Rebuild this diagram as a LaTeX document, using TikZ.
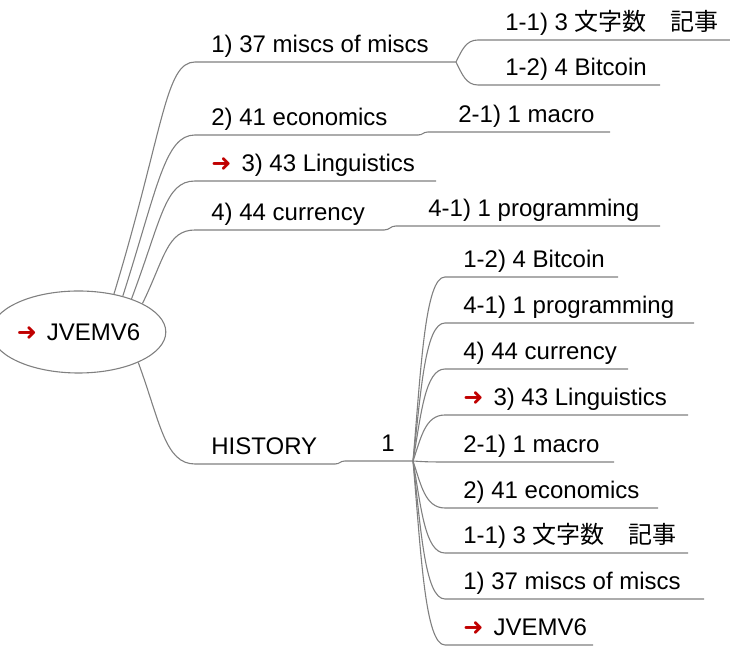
\documentclass[tikz,border=0pt]{standalone}
\usepackage{fontspec}
\setmainfont{Liberation Sans}
\newfontfamily\cjk{Noto Sans CJK JP}
\newfontfamily\symfont{DejaVu Sans}
\usetikzlibrary{shapes.geometric}
\definecolor{edgegray}{HTML}{808080}
\definecolor{iconred}{HTML}{C00000}
\newcommand{\redarrow}{{\symfont\fontsize{12}{12}\selectfont\textcolor{iconred}{➜}}}

\begin{document}
\begin{tikzpicture}[
    x=0.5pt, y=-0.5pt,
    every node/.style={font=\fontsize{12}{14}\selectfont, inner sep=0pt},
    topic/.style={anchor=base west},
    edge/.style={draw=edgegray, line width=0.55pt},
    rootbox/.style={ellipse, draw=edgegray, line width=0.55pt, minimum width=78pt, minimum height=41pt}
  ]
    \useasboundingbox (0,0) rectangle (730,646);

    % root
    \node[rootbox] (root) at (78.5,332) {\redarrow\hspace{5pt}JVEMV6};

    % main branches
    \node[topic] (m1) at (211,53) {1) 37 miscs of miscs};
    \node[topic] (m2) at (211,126) {2) 41 economics};
    \node[topic] (m3) at (211,172) {\redarrow\hspace{5pt}3) 43 Linguistics};
    \node[topic] (m4) at (211,221) {4) 44 currency};
    \node[topic] (hist) at (211,455) {HISTORY};
    \coordinate (m1-l) at (195,62);   \coordinate (m1-r) at (456,62);
    \coordinate (m2-l) at (195,135);  \coordinate (m2-r) at (418,135);
    \coordinate (m3-l) at (195,181);  \coordinate (m3-r) at (436,181);
    \coordinate (m4-l) at (195,230);  \coordinate (m4-r) at (384,230);
    \coordinate (hist-l) at (195,464); \coordinate (hist-r) at (335,464);

    % children
    \node[topic] (c11) at (505,31) {1-1) 3 {\cjk 文字数　記事}};
    \node[topic] (c12) at (505,76) {1-2) 4 Bitcoin};
    \node[topic] (c21) at (458,123) {2-1) 1 macro};
    \node[topic] (c41) at (428,217) {4-1) 1 programming};
    \node[topic, anchor=base] (one) at (388,452) {1};
    \coordinate (c11-l) at (478,40);  \coordinate (c11-r) at (730,40);
    \coordinate (c12-l) at (478,85);  \coordinate (c12-r) at (660,85);
    \coordinate (c21-l) at (428,132); \coordinate (c21-r) at (610,132);
    \coordinate (c41-l) at (396,226); \coordinate (c41-r) at (660,226);
    \coordinate (one-l) at (345,461); \coordinate (one-r) at (413,461);

    % root edges
    \draw[edge] (root.47) .. controls +(50,-165) and +(-30,0) .. (m1-l) -- (m1-r);
    \draw[edge] (root.39) .. controls +(35,-110) and +(-30,0) .. (m2-l) -- (m2-r);
    \draw[edge] (root.32) .. controls +(30,-80) and +(-30,0) .. (m3-l) -- (m3-r);
    \draw[edge] (root.24) .. controls +(22,-45) and +(-28,0) .. (m4-l) -- (m4-r);
    \draw[edge] (root.-27) .. controls +(22,60) and +(-30,0) .. (hist-l) -- (hist-r);

    % child edges
    \draw[edge] (m1-r) .. controls +(6,-12) and +(-12,0) .. (c11-l) -- (c11-r);
    \draw[edge] (m1-r) .. controls +(6,12) and +(-12,0) .. (c12-l) -- (c12-r);
    \draw[edge] (m2-r) .. controls +(5,0) and +(-5,0) .. (c21-l) -- (c21-r);
    \draw[edge] (m4-r) .. controls +(6,0) and +(-6,0) .. (c41-l) -- (c41-r);
    \draw[edge] (hist-r) .. controls +(5,0) and +(-5,0) .. (one-l) -- (one-r);

    % history list
    \foreach \n/\y/\xr/\txt in {
        h1/277/618/{1-2) 4 Bitcoin},
        h2/323/694/{4-1) 1 programming},
        h3/369/628/{4) 44 currency},
        h4/415/688/{\redarrow\hspace{5pt}3) 43 Linguistics},
        h5/462/614/{2-1) 1 macro},
        h6/508/658/{2) 41 economics},
        h7/553/688/{1-1) 3 {\cjk 文字数　記事}},
        h8/599/704/{1) 37 miscs of miscs},
        h9/645/593/{\redarrow\hspace{5pt}JVEMV6}} {
      \node[topic] (\n) at (463,\y-9) {\txt};
      \coordinate (\n-l) at (445,\y);
      \coordinate (\n-r) at (\xr,\y);
      \pgfmathsetmacro\dy{0.5*(\y-461)}
      \draw[edge] (one-r) .. controls +(8,\dy) and +(-20,0) .. (\n-l) -- (\n-r);
    }
  \end{tikzpicture}
\end{document}
